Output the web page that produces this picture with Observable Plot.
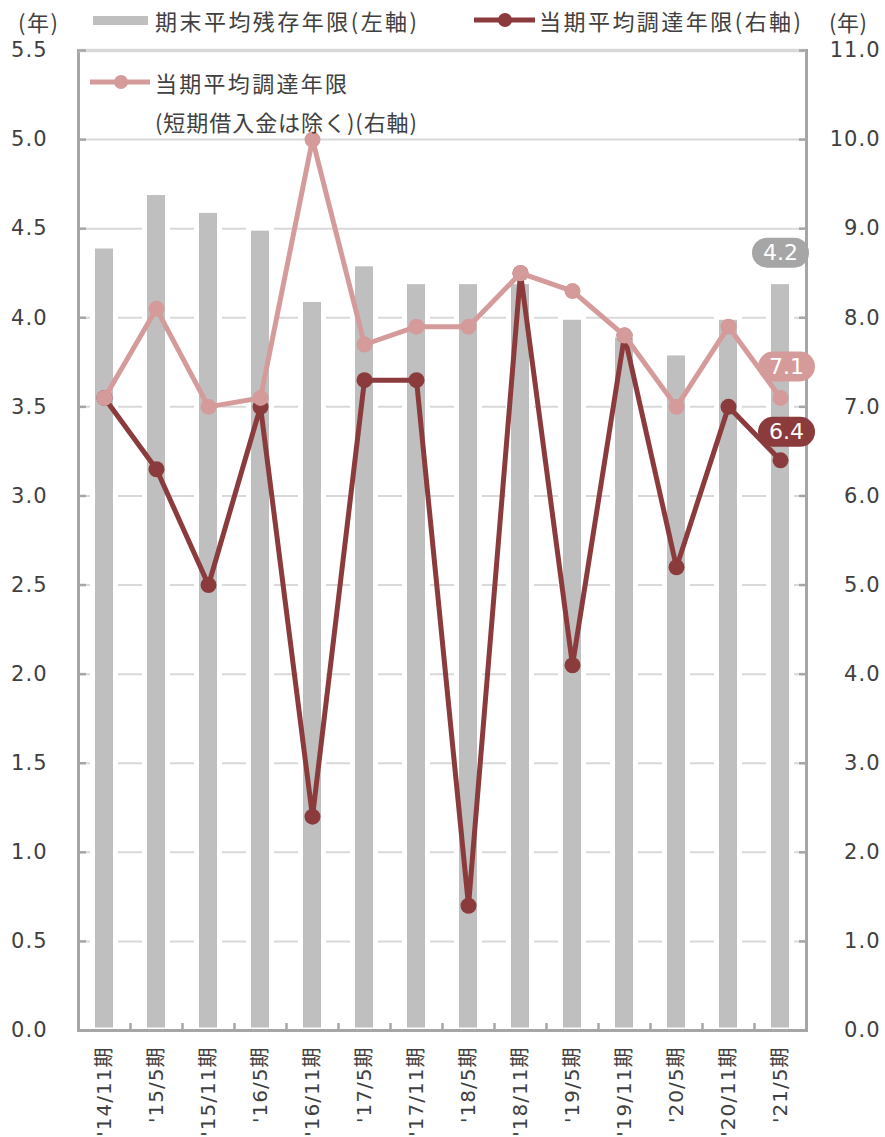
<!DOCTYPE html>
<html>
<head>
<meta charset="utf-8">
<script src="https://cdn.jsdelivr.net/npm/d3@7"></script>
<script src="https://cdn.jsdelivr.net/npm/@observablehq/plot@0.6"></script>
<style>
  body { margin: 0; background: #fff; }
  #wrap { position: relative; width: 885px; height: 1137px; overflow: hidden; background: #fff; }
  #legend { position: absolute; left: 0; top: 0; pointer-events: none; }
  #wrap svg g[aria-label="y-axis tick label"] text { letter-spacing: 1px; }
  #wrap svg g[aria-label="x-axis tick label"] text { letter-spacing: 1px; }
</style>
</head>
<body>
<div id="wrap"></div>
<script>
// ---- data ----
const periods = ["'14/11期","'15/5期","'15/11期","'16/5期","'16/11期","'17/5期","'17/11期","'18/5期","'18/11期","'19/5期","'19/11期","'20/5期","'20/11期","'21/5期"];
const remainingYears = [4.4, 4.7, 4.6, 4.5, 4.1, 4.3, 4.2, 4.2, 4.2, 4.0, 3.9, 3.8, 4.0, 4.2];   // 期末平均残存年限 (左軸)
const procurementYears = [7.1, 6.3, 5.0, 7.0, 2.4, 7.3, 7.3, 1.4, 8.5, 4.1, 7.8, 5.2, 7.0, 6.4]; // 当期平均調達年限 (右軸)
const procurementExShort = [7.1, 8.1, 7.0, 7.1, 10.0, 7.7, 7.9, 7.9, 8.5, 8.3, 7.8, 7.0, 7.9, 7.1]; // 短期借入金除く (右軸)
const leftTicks = [0, 0.5, 1, 1.5, 2, 2.5, 3, 3.5, 4, 4.5, 5, 5.5];
const rightTicks = [0, 1, 2, 3, 4, 5, 6, 7, 8, 9, 10, 11];
const legendLabels = {
  unit: "(年)",
  bars: "期末平均残存年限(左軸)",
  proc: "当期平均調達年限(右軸)",
  procEx1: "当期平均調達年限",
  procEx2: "(短期借入金は除く)(右軸)"
};

// ---- styles ----
const barColor = "#bfbfbf";
const darkColor = "#8b3b3b";
const pinkColor = "#d59b9b";
const axisColor = "#a6a6a6";
const gridColor = "#d9d9d9";
const textColor = "#404040";
const ratio = rightTicks[rightTicks.length - 1] / leftTicks[leftTicks.length - 1];

const rows = periods.map((p, i) => ({
  period: p,
  remaining: remainingYears[i],
  proc: procurementYears[i],
  procEx: procurementExShort[i]
}));
const last = [rows[rows.length - 1]];

// unique near-white fills identify the value labels for their rounded boxes
const labelFills = { "#fffffe": axisColor, "#fffffd": pinkColor, "#fffffc": darkColor };

const chart = Plot.plot({
  width: 885,
  height: 1137,
  marginLeft: 78,
  marginRight: 79,
  marginTop: 50,
  marginBottom: 107,
  style: { fontFamily: '"DejaVu Sans","Noto Sans CJK JP",sans-serif', fontSize: "21px", background: "white", overflow: "visible" },
  x: { type: "band", domain: periods, padding: 0, axis: null },
  y: { domain: [0, leftTicks[leftTicks.length - 1]], axis: null },
  marks: [
    Plot.ruleY(leftTicks.filter(d => d > 0), { stroke: gridColor, strokeWidth: 2 }),
    Plot.barY(rows, { x: "period", y: "remaining", fill: barColor, stroke: "white", strokeWidth: 5, insetLeft: 14.5, insetRight: 14.5 }),
    Plot.frame({ stroke: axisColor, strokeWidth: 3 }),
    Plot.ruleY([leftTicks[leftTicks.length - 1]], { stroke: gridColor, strokeWidth: 3.5 }),
    Plot.axisY(leftTicks, { anchor: "left", tickSize: -8, tickPadding: 39, stroke: axisColor, strokeWidth: 2.5, fill: textColor, tickFormat: d => d.toFixed(1), label: null }),
    Plot.axisY(rightTicks.map(d => d / ratio), { anchor: "right", tickSize: -8, tickPadding: 82, textAnchor: "end", stroke: axisColor, strokeWidth: 2.5, fill: textColor, tickFormat: d => (d * ratio).toFixed(1), label: null }),
    Plot.axisX(periods, { anchor: "bottom", tickSize: -7, dx: 26, stroke: axisColor, strokeWidth: 2.5, fill: "none", label: null }),
    Plot.axisX(periods, { anchor: "bottom", tickSize: 0, tickRotate: -90, tickPadding: 16, fill: textColor, fontSize: 20, label: null }),
    Plot.line(rows, { x: "period", y: d => d.proc / ratio, stroke: darkColor, strokeWidth: 5 }),
    Plot.dot(rows, { x: "period", y: d => d.proc / ratio, r: 8, fill: darkColor }),
    Plot.line(rows, { x: "period", y: d => d.procEx / ratio, stroke: pinkColor, strokeWidth: 5 }),
    Plot.dot(rows, { x: "period", y: d => d.procEx / ratio, r: 8, fill: pinkColor }),
    Plot.text(last, { x: "period", y: "remaining", text: d => d.remaining.toFixed(1), dy: -29, fill: "#fffffe", fontSize: 22 }),
    Plot.text(last, { x: "period", y: d => d.procEx / ratio, text: d => d.procEx.toFixed(1), dy: -31, dx: 6, fill: "#fffffd", fontSize: 22 }),
    Plot.text(last, { x: "period", y: d => d.proc / ratio, text: d => d.proc.toFixed(1), dy: -28, dx: 6, fill: "#fffffc", fontSize: 22 })
  ]
});

const wrap = document.getElementById("wrap");
wrap.append(chart);

// rounded label boxes behind value labels
const NS = "http://www.w3.org/2000/svg";
chart.querySelectorAll("text").forEach(t => {
  const f = (t.getAttribute("fill") || t.parentNode.getAttribute("fill") || "").toLowerCase();
  const color = labelFills[f];
  if (!color) return;
  const b = t.getBBox();
  const r = document.createElementNS(NS, "rect");
  const w = b.width + 22, h = 30;
  r.setAttribute("x", b.x + b.width / 2 - w / 2);
  r.setAttribute("y", b.y + b.height / 2 - h / 2);
  r.setAttribute("width", w);
  r.setAttribute("height", h);
  r.setAttribute("rx", 15);
  r.setAttribute("fill", color);
  if (t.getAttribute("transform")) r.setAttribute("transform", t.getAttribute("transform"));
  t.parentNode.insertBefore(r, t);
  t.setAttribute("fill", "white");
});

// legend overlay
const lg = d3.select(wrap).append("svg").attr("id", "legend").attr("width", 885).attr("height", 140)
  .style("font-family", '"Noto Sans CJK JP","DejaVu Sans",sans-serif').style("font-size", "22px");
function txt(x, y, s, len) {
  lg.append("text").attr("x", x).attr("y", y).attr("dominant-baseline", "central").attr("fill", textColor)
    .attr("textLength", len).attr("lengthAdjust", "spacing").text(s);
}
txt(18, 21, legendLabels.unit, 40);
txt(829, 21, legendLabels.unit, 38);
lg.append("rect").attr("x", 93).attr("y", 16).attr("width", 55).attr("height", 9).attr("fill", barColor);
txt(155, 20, legendLabels.bars, 262);
lg.append("line").attr("x1", 474).attr("x2", 535).attr("y1", 20).attr("y2", 20).attr("stroke", darkColor).attr("stroke-width", 5);
lg.append("circle").attr("cx", 505).attr("cy", 20).attr("r", 7).attr("fill", darkColor);
txt(539, 20, legendLabels.proc, 262);
lg.append("line").attr("x1", 90).attr("x2", 150).attr("y1", 82).attr("y2", 82).attr("stroke", pinkColor).attr("stroke-width", 5);
lg.append("circle").attr("cx", 121).attr("cy", 82).attr("r", 7).attr("fill", pinkColor);
txt(155, 82, legendLabels.procEx1, 192);
txt(155, 121, legendLabels.procEx2, 262);
</script>
</body>
</html>
